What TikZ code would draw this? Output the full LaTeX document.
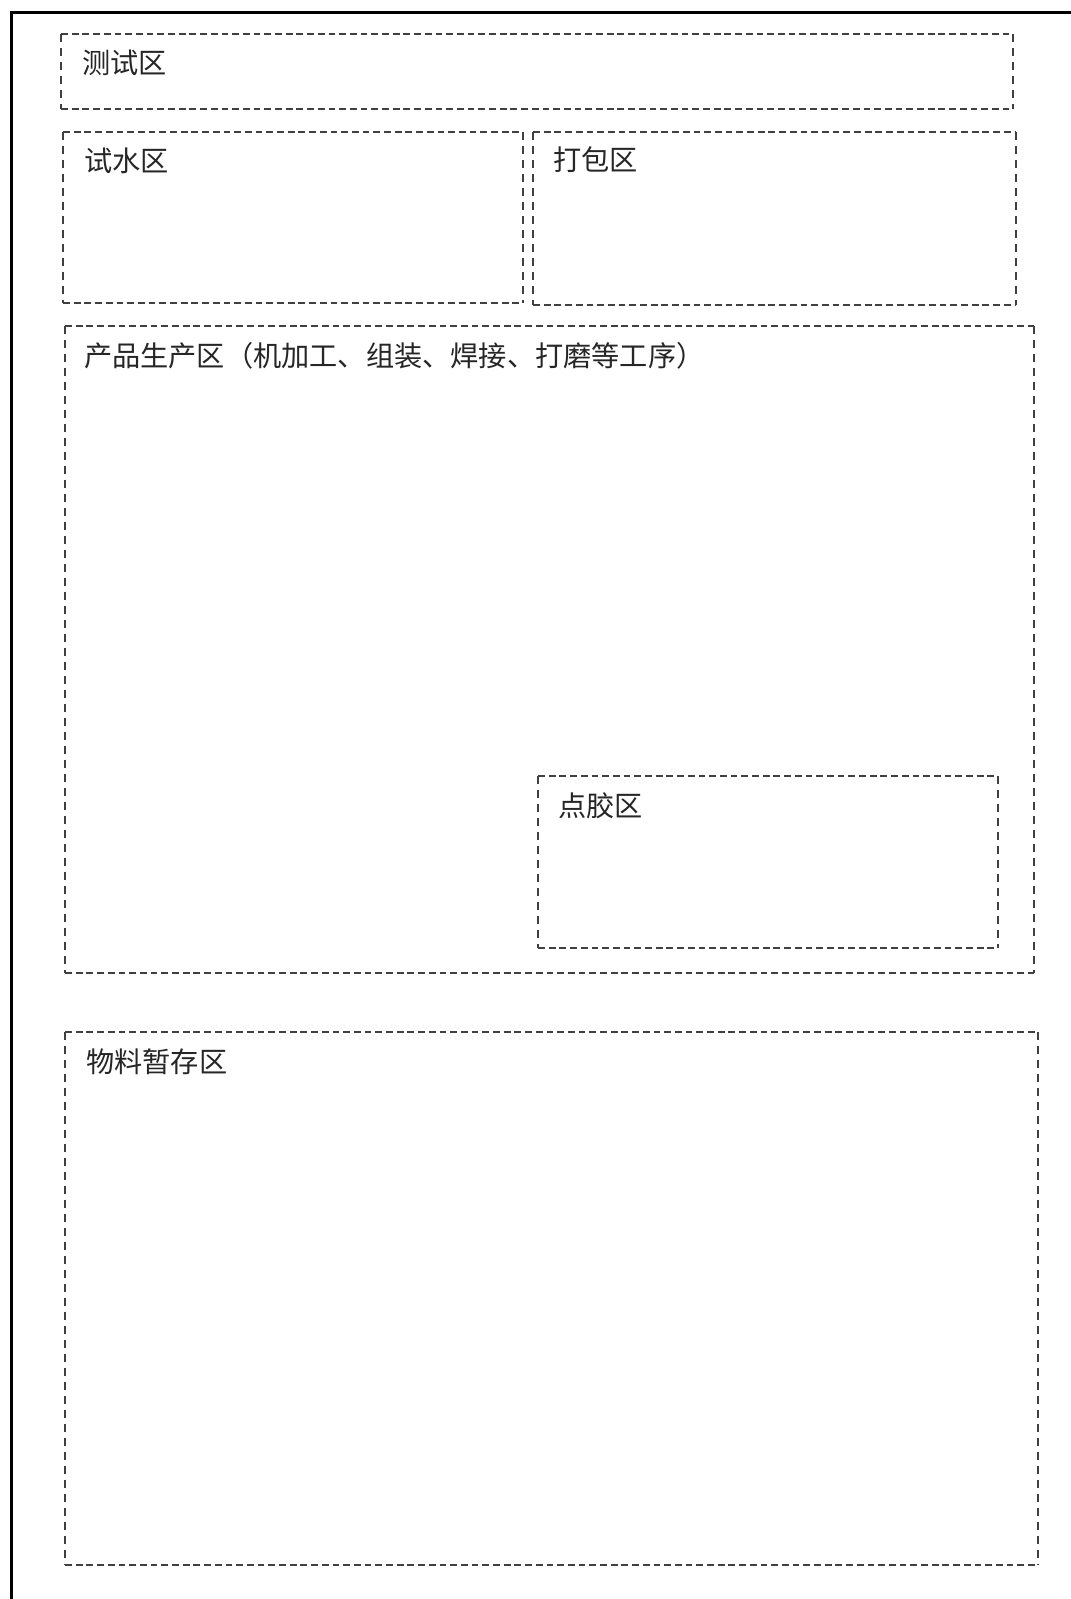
\documentclass[tikz,border=0pt]{standalone}
\usepackage{fontspec}
\newfontfamily\cjk{Noto Sans CJK SC}
\begin{document}
\begin{tikzpicture}[x=1pt,y=-1pt,
  zone/.style={draw=none, inner sep=0pt, outer sep=0pt, anchor=north west},
  hdash/.style={draw=black!75, line width=1.8pt, dash pattern=on 6.8pt off 3.9pt},
  vdash/.style={draw=black!75, line width=1.8pt, dash pattern=on 8pt off 6pt},
  lbl/.style={anchor=west, inner sep=0pt, font=\cjk\fontsize{28.2}{31}\selectfont, text=black!85}]
\useasboundingbox[fill=white] (0,0) rectangle (1071,1599);
% outer frame (top and left edges)
\draw[line width=3.5pt, line cap=rect] (1071,12.5) -- (11.5,12.5) -- (11.5,1599);
% zones
\node[zone, minimum width=952pt, minimum height=75pt] (test) at (61,34) {};
\node[zone, minimum width=460pt, minimum height=171pt] (water) at (63,132) {};
\node[zone, minimum width=483pt, minimum height=173pt] (pack) at (533,132) {};
\node[zone, minimum width=969pt, minimum height=647pt] (prod) at (65,326) {};
\node[zone, minimum width=460pt, minimum height=172pt] (glue) at (538,776) {};
\node[zone, minimum width=973pt, minimum height=533pt] (store) at (65,1032) {};
\foreach \z in {test,water,pack,prod,glue,store}{
  \draw[hdash] (\z.north west) -- (\z.north east) (\z.south west) -- (\z.south east);
  \draw[vdash] (\z.north west) -- (\z.south west) (\z.north east) -- (\z.south east);
}
% labels
\node[lbl] (testl) at (82,63) {测试区};
\node[lbl] (waterl) at (84,161) {试水区};
\node[lbl] (packl) at (553,160) {打包区};
\node[lbl] (prodl) at (84,356) {产品生产区（机加工、组装、焊接、打磨等工序）};
\node[lbl] (gluel) at (558,806) {点胶区};
\node[lbl] (storel) at (86,1062) {物料暂存区};
\end{tikzpicture}
\end{document}
